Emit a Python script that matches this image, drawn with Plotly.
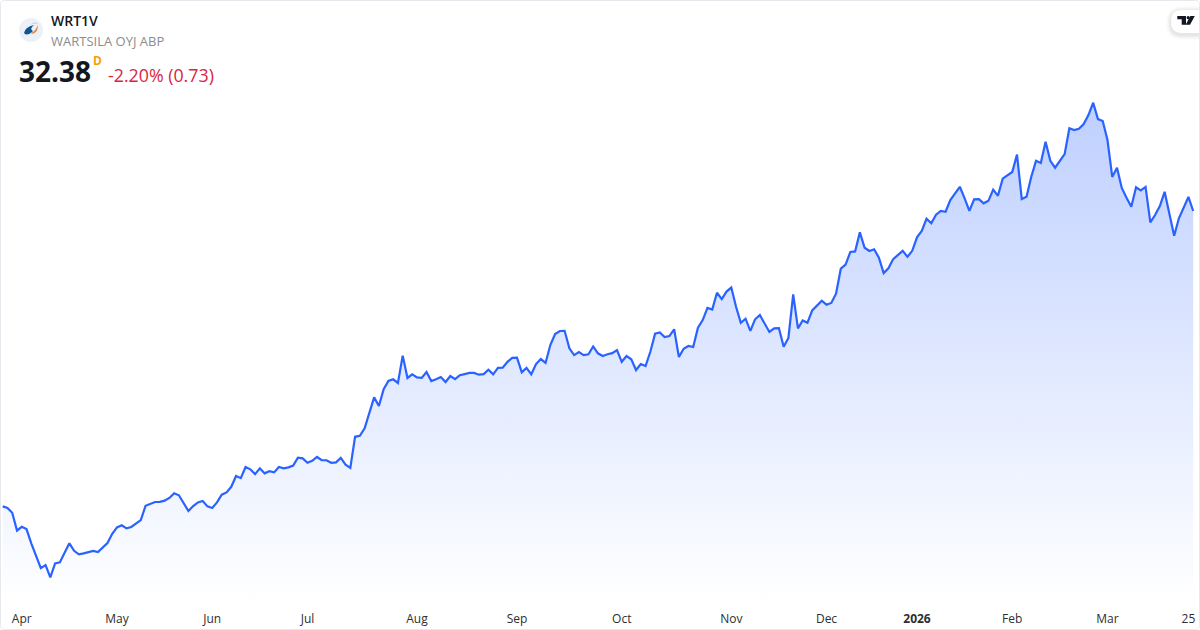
import plotly.graph_objects as go

W, H = 1200, 630

# Daily closes, one per trading session
closes = [
    17.02, 16.94, 16.69, 15.76, 15.96, 15.84, 15.10, 14.44, 13.81, 13.97,
    13.33, 14.06, 14.11, 14.61, 15.10, 14.71, 14.53, 14.58, 14.63, 14.71,
    14.65, 14.89, 15.12, 15.60, 15.93, 16.04, 15.88, 15.95, 16.15, 16.31,
    17.05, 17.14, 17.25, 17.26, 17.32, 17.46, 17.70, 17.60, 17.18, 16.78,
    17.04, 17.23, 17.30, 17.02, 16.94, 17.23, 17.63, 17.75, 18.04, 18.60,
    18.49, 19.07, 18.95, 18.70, 19.00, 18.74, 18.85, 18.79, 19.07, 19.00,
    19.05, 19.14, 19.55, 19.52, 19.29, 19.39, 19.59, 19.42, 19.42, 19.29,
    19.31, 19.54, 19.19, 19.02, 20.64, 20.69, 21.08, 21.86, 22.69, 22.24,
    23.11, 23.54, 23.63, 23.44, 24.86, 23.70, 23.89, 23.73, 23.70, 24.01,
    23.54, 23.63, 23.75, 23.49, 23.80, 23.64, 23.84, 23.90, 23.96, 23.96,
    23.87, 23.90, 24.13, 23.89, 24.22, 24.23, 24.54, 24.74, 24.75, 23.99,
    24.22, 23.89, 24.42, 24.68, 24.48, 25.41, 25.98, 26.14, 26.15, 25.24,
    24.89, 25.05, 24.89, 24.93, 25.34, 24.98, 24.84, 24.93, 24.99, 25.15,
    24.54, 24.84, 24.67, 24.11, 24.42, 24.32, 25.06, 26.00, 26.07, 25.83,
    25.88, 26.23, 24.79, 25.22, 25.36, 25.31, 26.31, 26.71, 27.34, 27.26,
    28.13, 27.80, 28.19, 28.40, 27.40, 26.57, 26.78, 26.15, 26.75, 26.97,
    26.50, 26.09, 26.28, 26.29, 25.32, 25.78, 28.05, 26.28, 26.69, 26.57,
    27.21, 27.49, 27.72, 27.51, 27.60, 28.08, 29.38, 29.59, 30.25, 30.28,
    31.27, 30.47, 30.30, 30.39, 29.95, 29.15, 29.40, 29.88, 30.11, 30.31,
    30.00, 30.31, 31.01, 31.34, 31.98, 31.74, 32.19, 32.39, 32.34, 32.95,
    33.30, 33.64, 33.04, 32.39, 32.99, 33.00, 32.78, 32.91, 33.49, 33.17,
    34.06, 34.25, 34.41, 35.31, 33.00, 33.12, 34.16, 34.99, 34.88, 35.98,
    34.99, 34.63, 34.99, 35.34, 36.68, 36.59, 36.66, 36.90, 37.37, 38.01,
    37.16, 37.06, 36.07, 34.15, 34.63, 33.58, 33.07, 32.60, 33.61, 33.45,
    33.63, 31.79, 32.17, 32.64, 33.38, 32.17, 31.09, 32.00, 32.57, 33.11,
    32.38,
]
sessions = list(range(len(closes)))

tick_sessions = [4, 24, 44, 64, 87, 108, 130, 153, 173, 192, 212, 232, 249]
tick_labels = ["Apr", "May", "Jun", "Jul", "Aug", "Sep", "Oct", "Nov", "Dec",
               "<b>2026</b>", "Feb", "Mar", "25"]

ticker = "WRT1V"
company = "WARTSILA OYJ ABP"
last_price = "32.38"
interval = "D"
change = "-2.20% (0.73)"

FONT = "Open Sans"
BLUE = "#2962FF"
PLOT_BOTTOM = 602
X_RANGE = [-0.567, 251.43]
Y_RANGE = [12.05, 43.352]


def px(x):
    return x / W


def py(y):
    return 1 - y / H


def pt(x, y):
    return f"{px(x):.5f} {py(y):.5f}"


def rounded(x0, y0, x1, y1, r):
    return (f"M {pt(x0 + r, y0)} L {pt(x1 - r, y0)} Q {pt(x1, y0)} {pt(x1, y0 + r)} "
            f"L {pt(x1, y1 - r)} Q {pt(x1, y1)} {pt(x1 - r, y1)} L {pt(x0 + r, y1)} "
            f"Q {pt(x0, y1)} {pt(x0, y1 - r)} L {pt(x0, y0 + r)} Q {pt(x0, y0)} {pt(x0 + r, y0)} Z")


def shape(path, fill, line=None, width=0):
    return dict(type="path", xref="paper", yref="paper", path=path, fillcolor=fill,
                line=dict(color=line or "rgba(0,0,0,0)", width=width), layer="above")


def text(x, y, s, size, color, weight=400):
    return dict(xref="paper", yref="paper", x=px(x), y=py(y), xanchor="left", yanchor="middle",
                text=s, showarrow=False, align="left",
                font=dict(family=FONT, size=size, color=color, weight=weight))


fig = go.Figure(go.Scatter(
    x=sessions, y=closes, mode="lines",
    line=dict(color=BLUE, width=2.2, shape="linear"),
    fill="tozeroy",
    fillgradient=dict(
        type="vertical", start=Y_RANGE[0], stop=max(closes),
        colorscale=[[0, "rgba(41,98,255,0.0)"], [1, "rgba(41,98,255,0.30)"]],
    ),
    hoverinfo="skip", showlegend=False,
))

shapes = []
# Watermark button with a soft shadow, clipped at the card edge by the page
for grow, alpha in ((5, 0.010), (4, 0.014), (3, 0.018), (2, 0.022), (1, 0.026)):
    shapes.append(shape(rounded(1171 - grow, 11 - grow, 1199 + 12, 35 + grow, 11 + grow),
                        f"rgba(0,0,0,{alpha})"))
shapes.append(shape(rounded(1171, 10, 1199 + 12, 33, 11), "#ffffff"))
shapes.append(shape(f"M {pt(1177.3, 16)} L {pt(1186, 16)} L {pt(1186, 24.7)} L {pt(1181.7, 24.7)} "
                    f"L {pt(1181.7, 19.3)} L {pt(1177.3, 19.3)} Z", "#131722"))
shapes.append(dict(type="circle", xref="paper", yref="paper", x0=px(1186.6), x1=px(1189.8),
                   y0=py(19.3), y1=py(16), fillcolor="#131722", line=dict(width=0), layer="above"))
shapes.append(shape(f"M {pt(1190.4, 16)} L {pt(1194.8, 16)} L {pt(1190, 24.7)} L {pt(1185.6, 24.7)} Z",
                    "#131722"))
# Outer card border
shapes.append(shape(rounded(0.5, 0.5, 1199.5, 629.5, 4), "rgba(0,0,0,0)", "#e6e8ee", 1))
# Logo disc and swoosh
shapes.append(dict(type="circle", xref="paper", yref="paper", x0=px(19), x1=px(43),
                   y0=py(42), y1=py(18), fillcolor="#ecf1f8", line=dict(width=0), layer="above"))
shapes.append(shape(f"M {pt(30, 25)} Q {pt(36, 20.5)} {pt(38, 24.5)} Q {pt(35, 22.5)} {pt(30, 25)} Z", "#b9c9dc"))
shapes.append(shape(f"M {pt(31, 33)} Q {pt(36, 31)} {pt(37.5, 25)} Q {pt(39, 32)} {pt(32, 34)} Z", "#d98b55"))
shapes.append(shape(f"M {pt(24, 33)} Q {pt(25, 27)} {pt(34, 25)} Q {pt(29, 29)} {pt(33, 31)} "
                    f"Q {pt(27, 37)} {pt(24, 33)} Z", "#12568f"))

fig.update_layout(
    width=W, height=H,
    margin=dict(l=0, r=0, t=0, b=0),
    paper_bgcolor="#ffffff", plot_bgcolor="#ffffff",
    font=dict(family=FONT),
    xaxis=dict(range=X_RANGE, showgrid=False, zeroline=False, showline=False,
               tickmode="array", tickvals=tick_sessions, ticktext=tick_labels,
               ticks="outside", ticklen=6, tickcolor="rgba(0,0,0,0)",
               tickfont=dict(family=FONT, size=12, color="#2e2e2e")),
    yaxis=dict(range=Y_RANGE, domain=[1 - PLOT_BOTTOM / H, 1], showgrid=False,
               zeroline=False, showline=False, showticklabels=False, ticks=""),
    shapes=shapes,
    annotations=[
        text(49, 21, ticker, 14, "#131722", 600),
        text(49, 41, company, 13, "#8c8c8c"),
        text(17, 71, last_price, 28, "#131722", 700),
        text(91, 61, interval, 12, "#f59f0b", 700),
        text(106, 75, change, 17.8, "#d9263f"),
    ],
)

fig.write_html("out.html", config=dict(displayModeBar=False),
               post_script="document.body.style.margin='0';document.documentElement.style.overflow='hidden';")
